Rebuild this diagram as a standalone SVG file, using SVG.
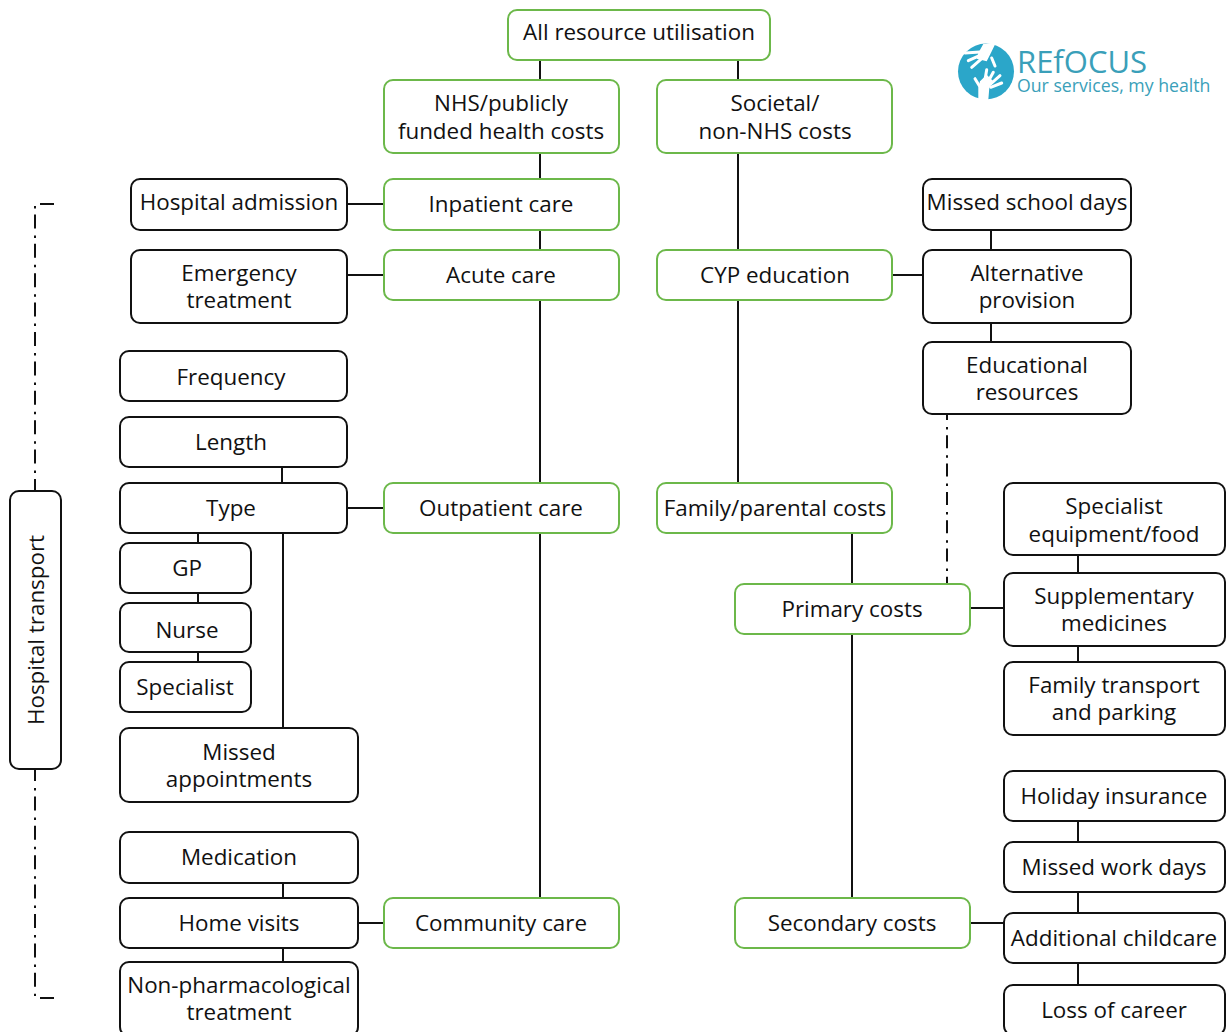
<svg xmlns="http://www.w3.org/2000/svg" width="1227" height="1032" viewBox="0 0 1227 1032">
<style>
text{font-family:"Open Sans","Noto Sans",sans-serif;font-size:22.400px;fill:#111;text-anchor:middle}
.g rect{fill:#fff;stroke:#6cb84a;stroke-width:2}
.k rect{fill:#fff;stroke:#111;stroke-width:2}
#connectors path{fill:none;stroke:#111;stroke-width:2}
.lg{fill:#3a9fb9;text-anchor:start}
.hand{fill:none;stroke:#fff;stroke-width:3;stroke-linecap:round}
</style>
<rect width="1227" height="1032" fill="#fff"/>
<g id="connectors">
<path d="M540 60V80M738 60V80M540 153V179M738 153V483M540 230V250M540 300V483M540 533V898M347 204H384M347 275H384M892 275H923M991 230V250M991 323V342M852 533V584M852 634V898M970 608H1004M970 923H1004M1078 555V573M1078 646V662M1078 821V842M1078 892V913M1078 963V985M282 467V483M283 533V728M198 533V543M198 593V603M198 652V662M384 508H347M283 883V898M283 948V962M384 923H358"/>
<path stroke-dasharray="13 7 2.500 5.800" stroke-dashoffset="7" d="M947 414V584"/>
<path stroke-dasharray="14 7 2.500 5.900" stroke-dashoffset="21" d="M35 206V491"/>
<path stroke-dasharray="14 7 2.500 5.900" stroke-dashoffset="2" d="M35 769V996"/>
<path d="M40 204H54M40 998H54"/>
</g>
<g id="all" class="g"><rect x="508" y="10" width="262" height="50" rx="9"/><text x="639" y="40">All resource utilisation</text></g>
<g id="nhs" class="g"><rect x="384" y="80" width="235" height="73" rx="9"/><text x="501" y="111">NHS/publicly</text><text x="501" y="139">funded health costs</text></g>
<g id="societal" class="g"><rect x="657" y="80" width="235" height="73" rx="9"/><text x="775" y="111">Societal/</text><text x="775" y="139">non-NHS costs</text></g>
<g id="inpatient" class="g"><rect x="384" y="179" width="235" height="51" rx="9"/><text x="501" y="212">Inpatient care</text></g>
<g id="acute" class="g"><rect x="384" y="250" width="235" height="50" rx="9"/><text x="501" y="283">Acute care</text></g>
<g id="outpatient" class="g"><rect x="384" y="483" width="235" height="50" rx="9"/><text x="501" y="516">Outpatient care</text></g>
<g id="community" class="g"><rect x="384" y="898" width="235" height="50" rx="9"/><text x="501" y="931">Community care</text></g>
<g id="cyp" class="g"><rect x="657" y="250" width="235" height="50" rx="9"/><text x="775" y="283">CYP education</text></g>
<g id="family" class="g"><rect x="657" y="483" width="235" height="50" rx="9"/><text x="775" y="516">Family/parental costs</text></g>
<g id="primary" class="g"><rect x="735" y="584" width="235" height="50" rx="9"/><text x="852" y="617">Primary costs</text></g>
<g id="secondary" class="g"><rect x="735" y="898" width="235" height="50" rx="9"/><text x="852" y="931">Secondary costs</text></g>
<g id="hospital-admission" class="k"><rect x="131" y="179" width="216" height="51" rx="9"/><text x="239" y="210">Hospital admission</text></g>
<g id="emergency" class="k"><rect x="131" y="250" width="216" height="73" rx="9"/><text x="239" y="281">Emergency</text><text x="239" y="308">treatment</text></g>
<g id="frequency" class="k"><rect x="120" y="351" width="227" height="50" rx="9"/><text x="231" y="385">Frequency</text></g>
<g id="length" class="k"><rect x="120" y="417" width="227" height="50" rx="9"/><text x="231" y="450">Length</text></g>
<g id="type" class="k"><rect x="120" y="483" width="227" height="50" rx="9"/><text x="231" y="516">Type</text></g>
<g id="gp" class="k"><rect x="120" y="543" width="131" height="50" rx="9"/><text x="187" y="576">GP</text></g>
<g id="nurse" class="k"><rect x="120" y="603" width="131" height="49" rx="9"/><text x="187" y="638">Nurse</text></g>
<g id="specialist" class="k"><rect x="120" y="662" width="131" height="50" rx="9"/><text x="185" y="695">Specialist</text></g>
<g id="missed-appointments" class="k"><rect x="120" y="728" width="238" height="74" rx="9"/><text x="239" y="760">Missed</text><text x="239" y="787">appointments</text></g>
<g id="medication" class="k"><rect x="120" y="832" width="238" height="51" rx="9"/><text x="239" y="865">Medication</text></g>
<g id="home-visits" class="k"><rect x="120" y="898" width="238" height="50" rx="9"/><text x="239" y="931">Home visits</text></g>
<g id="non-pharm" class="k"><rect x="120" y="962" width="238" height="74" rx="9"/><text x="239" y="993">Non-pharmacological</text><text x="239" y="1020">treatment</text></g>
<g id="missed-school" class="k"><rect x="923" y="179" width="208" height="51" rx="9"/><text x="1027" y="210">Missed school days</text></g>
<g id="alternative" class="k"><rect x="923" y="250" width="208" height="73" rx="9"/><text x="1027" y="281">Alternative</text><text x="1027" y="308">provision</text></g>
<g id="educational" class="k"><rect x="923" y="342" width="208" height="72" rx="9"/><text x="1027" y="373">Educational</text><text x="1027" y="400">resources</text></g>
<g id="equipment" class="k"><rect x="1004" y="483" width="221" height="72" rx="9"/><text x="1114" y="514">Specialist</text><text x="1114" y="542">equipment/food</text></g>
<g id="supplementary" class="k"><rect x="1004" y="573" width="221" height="73" rx="9"/><text x="1114" y="604">Supplementary</text><text x="1114" y="631">medicines</text></g>
<g id="transport-parking" class="k"><rect x="1004" y="662" width="221" height="73" rx="9"/><text x="1114" y="693">Family transport</text><text x="1114" y="720">and parking</text></g>
<g id="holiday" class="k"><rect x="1004" y="771" width="221" height="50" rx="9"/><text x="1114" y="804">Holiday insurance</text></g>
<g id="work" class="k"><rect x="1004" y="842" width="221" height="50" rx="9"/><text x="1114" y="875">Missed work days</text></g>
<g id="childcare" class="k"><rect x="1004" y="913" width="221" height="50" rx="9"/><text x="1114" y="946">Additional childcare</text></g>
<g id="career" class="k"><rect x="1004" y="985" width="221" height="50" rx="9"/><text x="1114" y="1018">Loss of career</text></g>
<g id="hospital-transport" class="k"><rect x="10" y="491" width="51" height="278" rx="9"/><text transform="translate(44 630) rotate(-90)">Hospital transport</text></g>
<g id="logo">
<circle cx="986" cy="71.500" r="28" fill="#2ba6c9"/>
<path d="M983.300 44L996 42.500L990 54.700L986.700 61.300L976.700 58.700L978.300 53ZM978.300 100L988.300 100L989.300 88L993.300 81.300L986.700 74.700L980 81.300L978.300 88Z" fill="#fff"/>
<path class="hand" d="M980 52L965 53M980 55.300L968.300 60.700M981.700 58.700L971.700 67.300M991.700 58L995 66M985 79.700L986.700 69.700M988.300 81.300L993.300 72.300M990.700 84L1000 75.700M990.700 87.300L1001.700 83M980.700 88L975 78.700"/>
<text class="lg" x="1017" y="73" style="font-size:31px">REfOCUS</text>
<text class="lg" x="1017" y="92" style="font-size:17.700px">Our services, my health</text>
</g>
</svg>
